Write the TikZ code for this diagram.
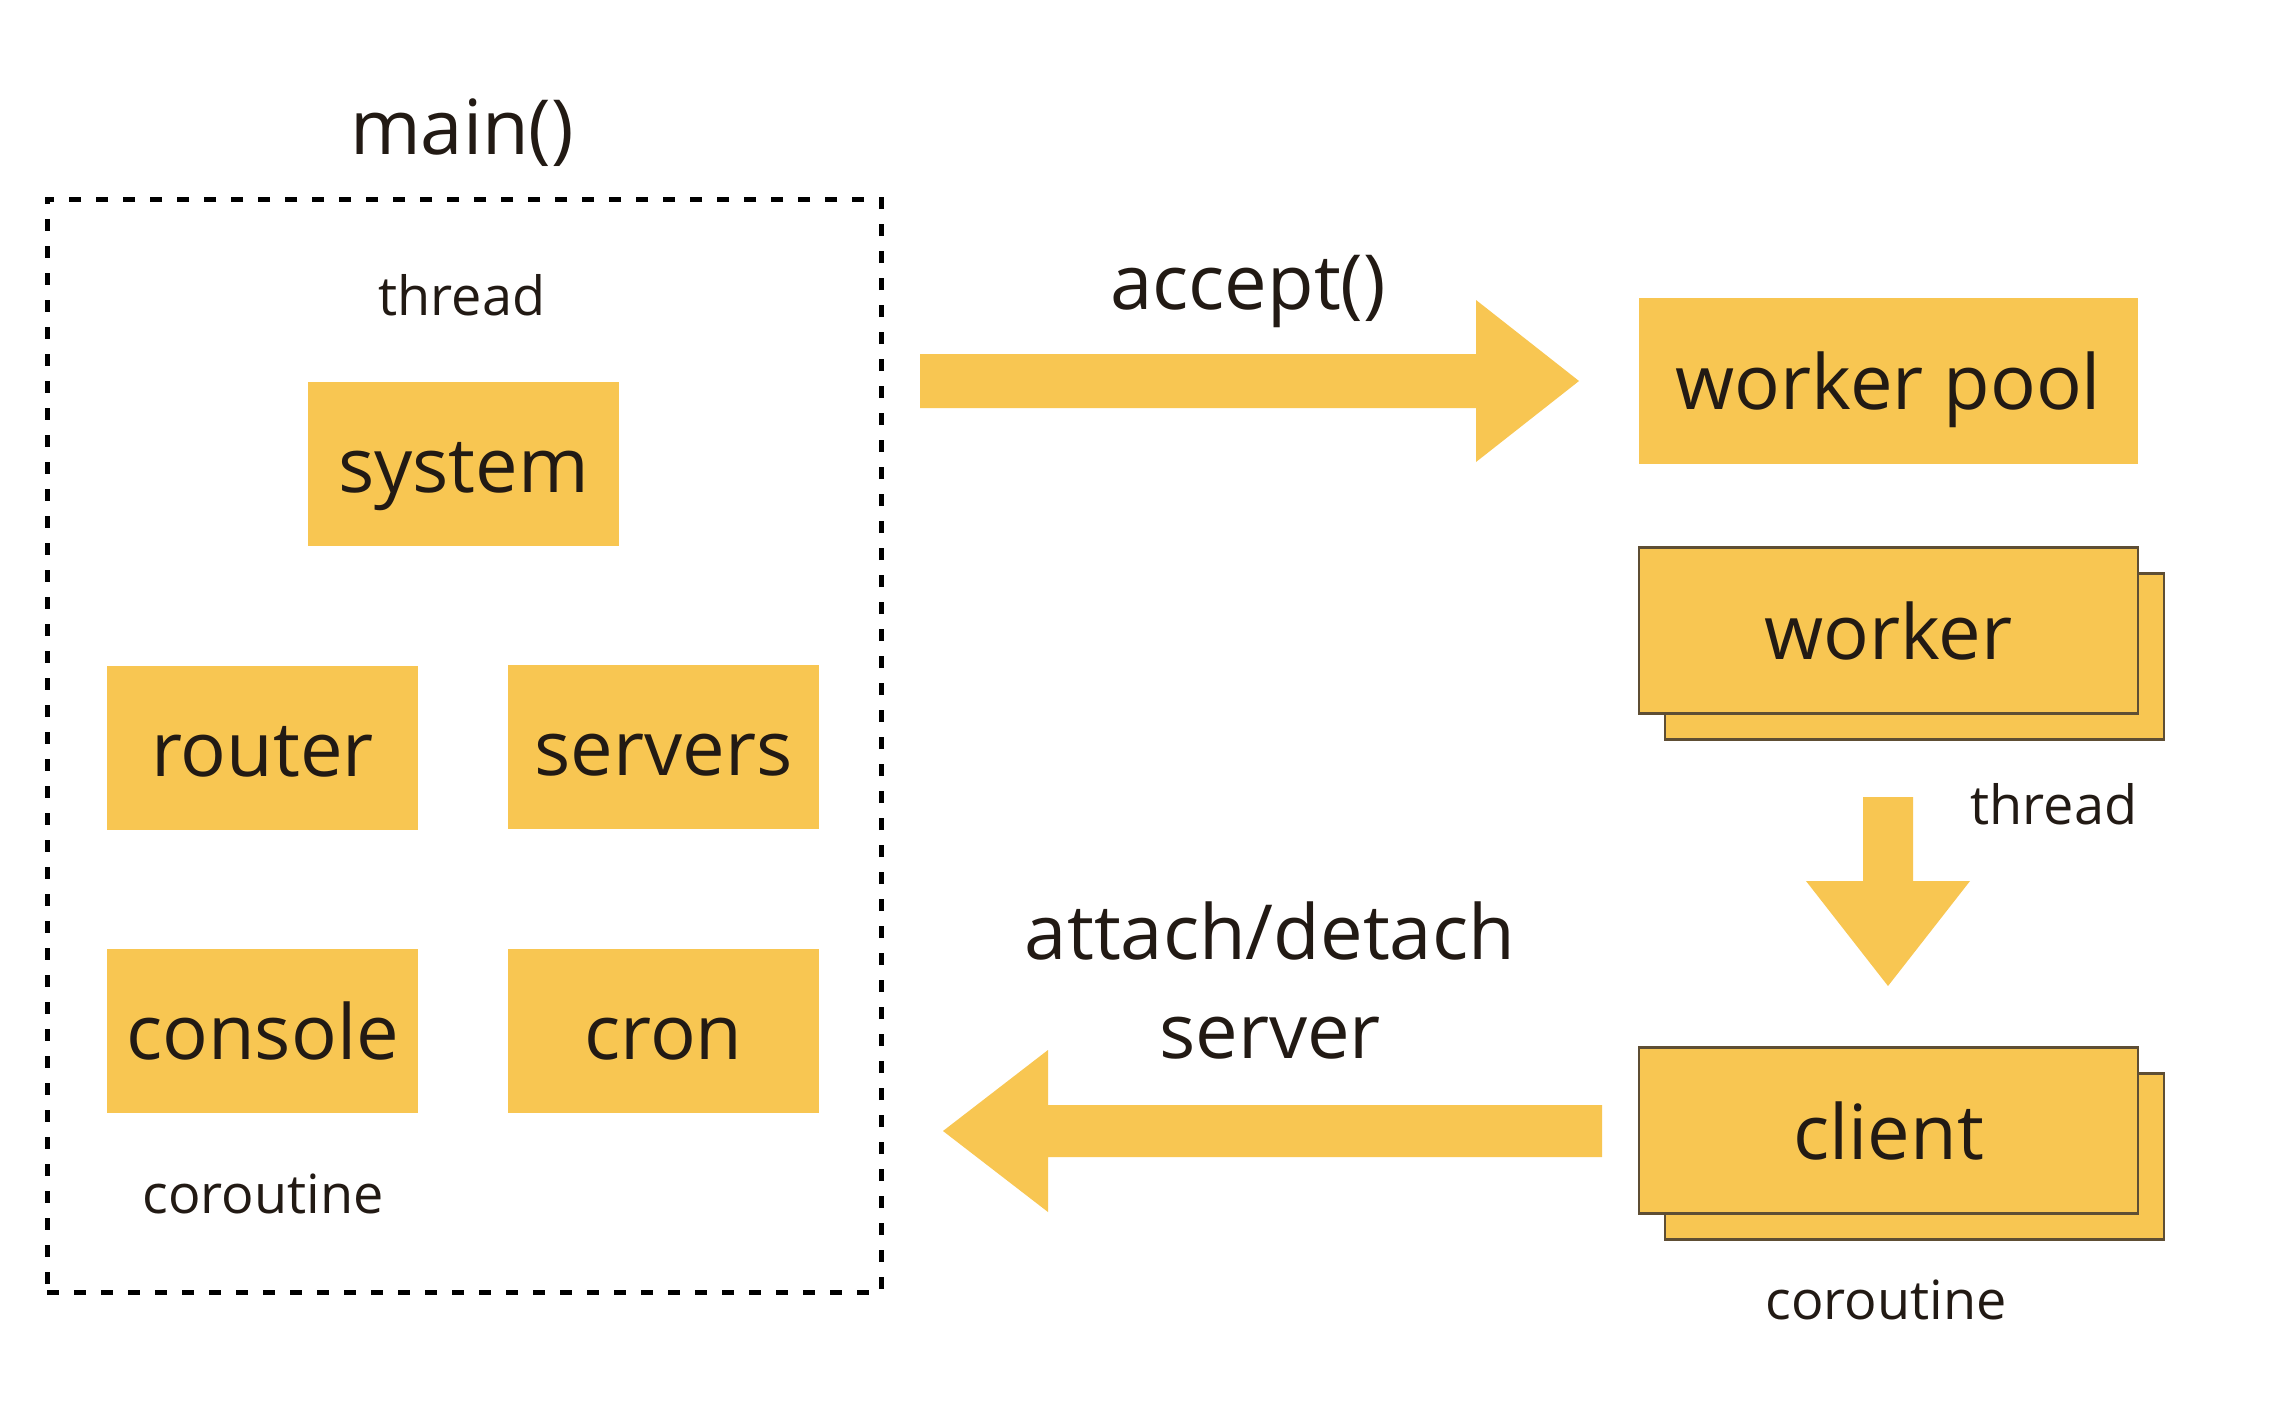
\documentclass[tikz,border=0pt]{standalone}
\usepackage{fontspec}
\setmainfont{Open Sans}
\definecolor{yl}{HTML}{F8C652}
\definecolor{bd}{HTML}{5E4E34}
\definecolor{tx}{HTML}{221A14}
\tikzset{
  big/.style={font=\fontsize{76}{80}\selectfont, text=tx},
  small/.style={font=\fontsize{54}{58}\selectfont, text=tx},
  ybox/.style={big, fill=yl, inner sep=0pt, minimum width=311pt, minimum height=164pt, text height=57pt, text depth=0pt},
  wbox/.style={ybox, minimum width=499pt, minimum height=166pt},
  sbox/.style={wbox, draw=bd, line width=2.5pt},
  lbl/.style={anchor=base, inner sep=0pt},
  barrow/.style={fill=yl},
}
\begin{document}
\begin{tikzpicture}[x=1pt,y=-1pt]
\useasboundingbox[fill=white] (0,0) rectangle (2276,1426);
% main container
\node[draw=black, dashed, dash pattern=on 12pt off 15pt, line width=5pt, minimum width=834pt, minimum height=1093pt, inner sep=0pt] (mainbox) at (464,745.5) {};
\node[big, lbl] (mainlbl) at (462,155) {main()};
\node[small, lbl] (thr1) at (462,315) {thread};
\node[ybox] (system) at (463.5,464) {system};
\node[ybox] (router) at (262.5,748) {router};
\node[ybox] (servers) at (663.5,747) {servers};
\node[ybox] (console) at (262.5,1031) {console};
\node[ybox] (cron) at (663.5,1031) {cron};
\node[small, lbl] (cor1) at (263,1213) {coroutine};
% right column
\node[wbox] (pool) at (1888.5,380.5) {worker pool};
\node[sbox] (workerb) at (1914.5,656.5) {};
\node[sbox] (worker) at (1888.5,630.5) {worker};
\node[small, lbl] (thr2) at (2054,824) {thread};
\node[sbox] (clientb) at (1914.5,1156.5) {};
\node[sbox] (client) at (1888.5,1130.5) {client};
\node[small, lbl] (cor2) at (1886,1319) {coroutine};
% labels of arrows
\node[big, lbl] (acc) at (1248,309) {accept()};
\node[big, lbl] (att1) at (1270,959) {attach/detach};
\node[big, lbl] (att2) at (1270,1058) {server};
% arrow 1: accept
\coordinate (a1s) at (920,381);
\coordinate (a1e) at (1579,381);
\fill[barrow] ([yshift=27pt]a1s) -- ([xshift=-103pt,yshift=27pt]a1e) -- ([xshift=-103pt,yshift=81pt]a1e) -- (a1e)
  -- ([xshift=-103pt,yshift=-81pt]a1e) -- ([xshift=-103pt,yshift=-27pt]a1e) -- ([yshift=-27pt]a1s) -- cycle;
% arrow 2: down
\coordinate (a2s) at (1888,797);
\coordinate (a2e) at (1888,986);
\fill[barrow] ([xshift=-25pt]a2s) -- ([xshift=-25pt,yshift=105pt]a2e) -- ([xshift=-82pt,yshift=105pt]a2e) -- (a2e)
  -- ([xshift=82pt,yshift=105pt]a2e) -- ([xshift=25pt,yshift=105pt]a2e) -- ([xshift=25pt]a2s) -- cycle;
% arrow 3: left
\coordinate (a3s) at (1602,1131);
\coordinate (a3e) at (943,1131);
\fill[barrow] ([yshift=26pt]a3s) -- ([xshift=105pt,yshift=26pt]a3e) -- ([xshift=105pt,yshift=81pt]a3e) -- (a3e)
  -- ([xshift=105pt,yshift=-81pt]a3e) -- ([xshift=105pt,yshift=-26pt]a3e) -- ([yshift=-26pt]a3s) -- cycle;
\end{tikzpicture}
\end{document}
